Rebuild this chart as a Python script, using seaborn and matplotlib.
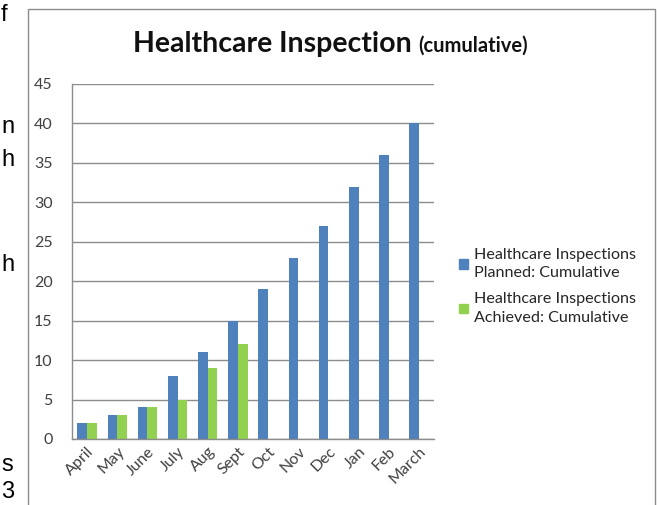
import numpy as np
import pandas as pd
import matplotlib
matplotlib.use("Agg")
import matplotlib.pyplot as plt
import matplotlib.patches as mpatches
import seaborn as sns

months = ["April", "May", "June", "July", "Aug", "Sept",
          "Oct", "Nov", "Dec", "Jan", "Feb", "March"]
planned = [2, 3, 4, 8, 11, 15, 19, 23, 27, 32, 36, 40]
achieved = [2, 3, 4, 5, 9, 12]

lab_plan = "Healthcare Inspections\nPlanned: Cumulative"
lab_ach = "Healthcare Inspections\nAchieved: Cumulative"

df = pd.DataFrame({
    "Month": months * 2,
    "Series": [lab_plan] * 12 + [lab_ach] * 12,
    "Value": planned + achieved + [np.nan] * (12 - len(achieved)),
})

sns.set_style("white")
plt.rcParams["font.family"] = ["Lato", "DejaVu Sans"]

fig = plt.figure(figsize=(6.57, 5.05), dpi=100)
ax = fig.add_axes([0.1096, 0.1307, 0.551, 0.7030])

blue = "#4F81BD"
green = "#92D050"
sns.barplot(data=df, x="Month", y="Value", hue="Series",
            palette=[blue, green], width=0.64, ax=ax, legend=False,
            saturation=1, linewidth=0)

ax.set_ylim(0, 45)
ax.set_yticks(range(0, 50, 5))
ax.set_xlim(-0.5, 11.5)
ax.yaxis.grid(True, color="#8C8C8C", linewidth=1)
ax.set_axisbelow(True)
ax.set_xlabel("")
ax.set_ylabel("")
for s in ["top", "right"]:
    ax.spines[s].set_visible(False)
for s in ["left", "bottom"]:
    ax.spines[s].set_color("#8C8C8C")
    ax.spines[s].set_linewidth(1)
ax.tick_params(axis="both", length=0, labelsize=11.5, colors="#404040")
ax.tick_params(axis="y", pad=14)
ax.tick_params(axis="x", pad=4)
plt.setp(ax.get_xticklabels(), rotation=45, ha="right",
         rotation_mode="anchor")

handles = [mpatches.Patch(color=blue), mpatches.Patch(color=green)]
leg = ax.legend(handles, [lab_plan, lab_ach], loc="center left",
                bbox_to_anchor=(1.03, 0.43), frameon=False, fontsize=11.6,
                handlelength=0.55, handleheight=0.55, handletextpad=0.35,
                labelspacing=0.75, labelcolor="#262626")
for t in leg.get_texts():
    t.set_linespacing(1.4)

# title in two parts
fig.text(0.627, 0.897, "Healthcare Inspection", ha="right", va="baseline",
         fontsize=20.5, fontweight="bold", color="#111111")
fig.text(0.636, 0.897, "(cumulative)", ha="left", va="baseline",
         fontsize=14.5, fontweight="bold", color="#111111")

# chart border
fig.patches.append(mpatches.Rectangle((28 / 657, -0.01), 627 / 657, 1 - 9 / 505 + 0.01,
                                      transform=fig.transFigure, fill=False,
                                      edgecolor="#8C8C8C", linewidth=1))

# fragments of surrounding document text on the left edge
for ch, y in [("f", 15), ("n", 127), ("h", 160), ("h", 265), ("s", 465), ("3", 492)]:
    fig.text(1 / 657, 1 - y / 505, ch, ha="left", va="center", fontsize=17,
             family="Liberation Sans", color="#000000")

fig.savefig("out.png", dpi=100)
